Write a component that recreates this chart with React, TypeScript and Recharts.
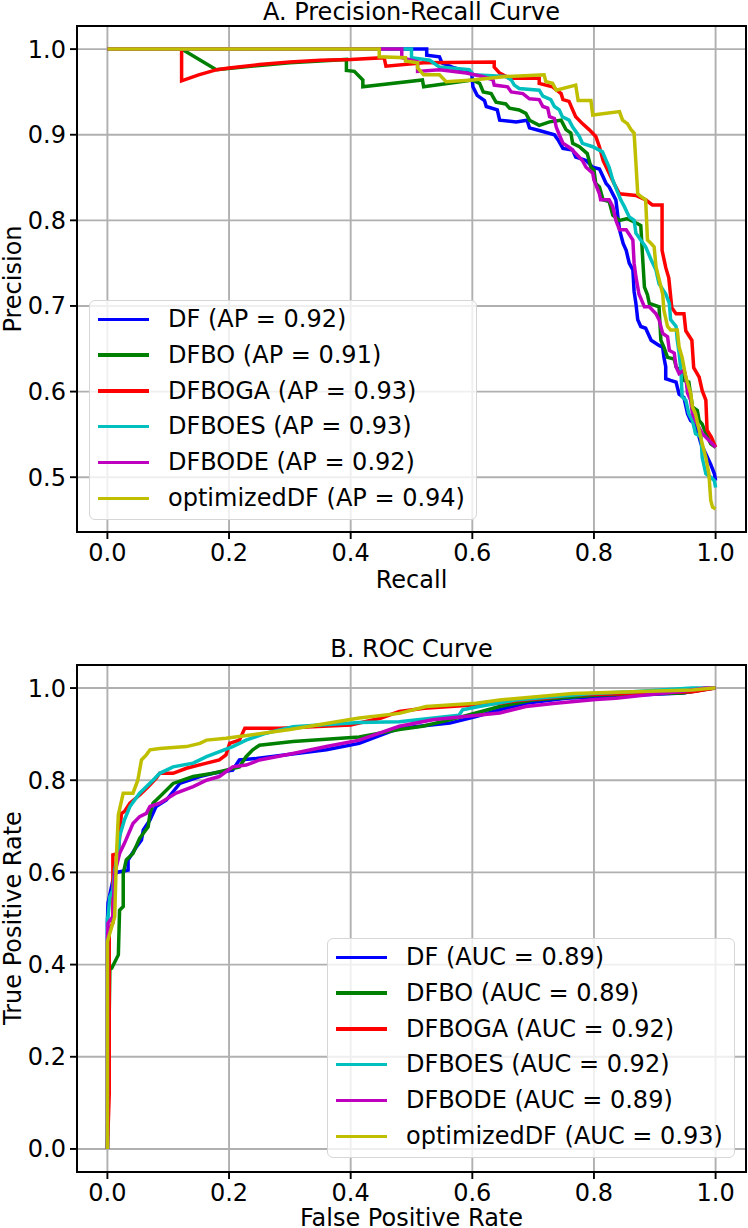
import React from 'react';
import { LineChart, Line, XAxis, YAxis, CartesianGrid } from 'recharts';

const FONT = '"DejaVu Sans", sans-serif';

const seriesNames = ['DF', 'DFBO', 'DFBOGA', 'DFBOES', 'DFBODE', 'optimizedDF'];
const seriesColors = ['#0000ff', '#008000', '#ff0000', '#00bfbf', '#bf00bf', '#bfbf00'];
const apScores = ['0.92', '0.91', '0.93', '0.93', '0.92', '0.94'];
const aucScores = ['0.89', '0.89', '0.92', '0.92', '0.89', '0.93'];

const xTicks = [0, 0.2, 0.4, 0.6, 0.8, 1.0];
const prYTicks = [0.5, 0.6, 0.7, 0.8, 0.9, 1.0];
const rocYTicks = [0, 0.2, 0.4, 0.6, 0.8, 1.0];

// precision-recall: [recall, precision]
const prDF: [number, number][] = [
  [0, 1], [0.525, 1], [0.525, 0.993], [0.546, 0.991], [0.55, 0.984], [0.567, 0.979], [0.599, 0.972],
  [0.601, 0.956], [0.608, 0.946], [0.62, 0.94], [0.623, 0.933], [0.641, 0.929], [0.645, 0.917],
  [0.672, 0.915], [0.69, 0.917], [0.694, 0.908], [0.71, 0.905], [0.735, 0.9], [0.741, 0.894],
  [0.749, 0.884], [0.765, 0.882], [0.77, 0.874], [0.787, 0.87], [0.798, 0.862], [0.809, 0.86],
  [0.815, 0.851], [0.82, 0.843], [0.825, 0.839], [0.833, 0.828], [0.836, 0.824], [0.842, 0.789],
  [0.848, 0.773], [0.853, 0.765], [0.858, 0.75], [0.864, 0.742], [0.866, 0.717], [0.869, 0.703],
  [0.872, 0.684], [0.877, 0.676], [0.885, 0.674], [0.894, 0.66], [0.907, 0.654], [0.913, 0.652],
  [0.915, 0.64], [0.918, 0.629], [0.918, 0.615], [0.926, 0.613], [0.935, 0.611], [0.94, 0.597],
  [0.948, 0.593], [0.954, 0.574], [0.959, 0.566], [0.967, 0.562], [0.976, 0.539], [0.984, 0.527],
  [0.992, 0.515], [0.998, 0.504], [1.0, 0.496],
];
const prDFBO: [number, number][] = [
  [0, 1], [0.122, 1], [0.179, 0.976], [0.25, 0.981], [0.3, 0.984], [0.35, 0.986], [0.393, 0.988],
  [0.393, 0.975], [0.406, 0.974], [0.42, 0.964], [0.42, 0.956], [0.518, 0.964], [0.52, 0.956],
  [0.6, 0.964], [0.612, 0.96], [0.618, 0.95], [0.631, 0.948], [0.639, 0.938], [0.655, 0.936],
  [0.661, 0.931], [0.677, 0.929], [0.688, 0.925], [0.694, 0.917], [0.71, 0.911], [0.727, 0.915],
  [0.746, 0.917], [0.754, 0.906], [0.762, 0.902], [0.765, 0.89], [0.776, 0.886], [0.789, 0.878],
  [0.795, 0.862], [0.8, 0.859], [0.803, 0.843], [0.809, 0.839], [0.815, 0.824], [0.825, 0.822],
  [0.831, 0.806], [0.842, 0.8], [0.855, 0.802], [0.872, 0.796], [0.877, 0.794], [0.88, 0.757],
  [0.883, 0.722], [0.888, 0.713], [0.891, 0.703], [0.907, 0.699], [0.91, 0.66], [0.915, 0.652],
  [0.921, 0.64], [0.932, 0.638], [0.935, 0.629], [0.945, 0.621], [0.948, 0.613], [0.956, 0.611],
  [0.962, 0.582], [0.97, 0.578], [0.973, 0.566], [0.978, 0.562], [0.984, 0.551], [0.992, 0.539],
  [1.0, 0.535],
];
const prDFBOGA: [number, number][] = [
  [0, 1], [0.122, 1], [0.122, 0.963], [0.15, 0.97], [0.18, 0.976], [0.2, 0.978], [0.25, 0.982],
  [0.3, 0.985], [0.35, 0.987], [0.4, 0.988], [0.455, 0.99], [0.458, 0.98], [0.52, 0.984],
  [0.636, 0.985], [0.636, 0.979], [0.645, 0.972], [0.661, 0.966], [0.71, 0.966], [0.71, 0.96],
  [0.732, 0.956], [0.746, 0.948], [0.749, 0.941], [0.759, 0.939], [0.765, 0.929], [0.77, 0.921],
  [0.781, 0.913], [0.792, 0.906], [0.803, 0.898], [0.809, 0.886], [0.815, 0.87], [0.825, 0.855],
  [0.833, 0.843], [0.842, 0.831], [0.869, 0.829], [0.885, 0.824], [0.896, 0.818], [0.912, 0.818],
  [0.912, 0.765], [0.918, 0.745], [0.923, 0.733], [0.928, 0.698], [0.935, 0.691], [0.948, 0.691],
  [0.951, 0.671], [0.961, 0.66], [0.964, 0.628], [0.973, 0.617], [0.978, 0.601], [0.984, 0.59],
  [0.986, 0.555], [0.993, 0.547], [1.0, 0.535],
];
const prDFBOES: [number, number][] = [
  [0, 1], [0.5, 1], [0.5, 0.99], [0.53, 0.987], [0.546, 0.979], [0.595, 0.976], [0.601, 0.97],
  [0.655, 0.968], [0.664, 0.964], [0.669, 0.958], [0.677, 0.954], [0.71, 0.952], [0.716, 0.945],
  [0.729, 0.941], [0.735, 0.933], [0.743, 0.929], [0.748, 0.921], [0.759, 0.917], [0.765, 0.909],
  [0.776, 0.898], [0.781, 0.89], [0.798, 0.886], [0.814, 0.88], [0.82, 0.87], [0.825, 0.862],
  [0.831, 0.847], [0.844, 0.824], [0.85, 0.816], [0.858, 0.804], [0.866, 0.8], [0.869, 0.785],
  [0.885, 0.769], [0.894, 0.754], [0.902, 0.742], [0.907, 0.726], [0.918, 0.714], [0.924, 0.703],
  [0.926, 0.684], [0.935, 0.676], [0.937, 0.66], [0.94, 0.645], [0.943, 0.625], [0.945, 0.594],
  [0.951, 0.59], [0.956, 0.574], [0.962, 0.566], [0.967, 0.551], [0.976, 0.547], [0.978, 0.523],
  [0.984, 0.504], [0.992, 0.5], [0.998, 0.496], [1.0, 0.488],
];
const prDFBODE: [number, number][] = [
  [0, 1], [0.484, 1], [0.484, 0.99], [0.51, 0.985], [0.51, 0.974], [0.546, 0.976], [0.59, 0.972],
  [0.617, 0.968], [0.634, 0.964], [0.636, 0.958], [0.658, 0.956], [0.664, 0.95], [0.683, 0.948],
  [0.694, 0.942], [0.71, 0.941], [0.716, 0.933], [0.724, 0.931], [0.727, 0.921], [0.735, 0.919],
  [0.738, 0.909], [0.743, 0.9], [0.749, 0.89], [0.762, 0.884], [0.77, 0.878], [0.781, 0.87],
  [0.787, 0.862], [0.798, 0.855], [0.8, 0.847], [0.809, 0.831], [0.811, 0.824], [0.825, 0.824],
  [0.831, 0.816], [0.836, 0.8], [0.842, 0.789], [0.853, 0.789], [0.864, 0.777], [0.866, 0.75],
  [0.869, 0.734], [0.874, 0.714], [0.883, 0.699], [0.891, 0.699], [0.902, 0.691], [0.907, 0.684],
  [0.913, 0.668], [0.921, 0.664], [0.924, 0.648], [0.932, 0.645], [0.935, 0.629], [0.94, 0.621],
  [0.948, 0.625], [0.951, 0.617], [0.954, 0.598], [0.959, 0.59], [0.962, 0.574], [0.967, 0.566],
  [0.978, 0.551], [0.989, 0.543], [1.0, 0.535],
];
const prOptimizedDF: [number, number][] = [
  [0, 1], [0.447, 1], [0.447, 0.991], [0.49, 0.99], [0.49, 0.986], [0.51, 0.984], [0.51, 0.978],
  [0.52, 0.97], [0.546, 0.97], [0.557, 0.962], [0.601, 0.964], [0.655, 0.968], [0.718, 0.97],
  [0.721, 0.962], [0.732, 0.96], [0.738, 0.952], [0.77, 0.958], [0.774, 0.94], [0.795, 0.94],
  [0.798, 0.923], [0.842, 0.927], [0.847, 0.917], [0.855, 0.913], [0.861, 0.906], [0.866, 0.902],
  [0.869, 0.867], [0.872, 0.831], [0.877, 0.828], [0.885, 0.824], [0.888, 0.777], [0.894, 0.773],
  [0.899, 0.769], [0.902, 0.746], [0.913, 0.714], [0.915, 0.695], [0.921, 0.676], [0.926, 0.672],
  [0.937, 0.672], [0.94, 0.652], [0.945, 0.64], [0.951, 0.617], [0.959, 0.598], [0.962, 0.582],
  [0.967, 0.574], [0.973, 0.555], [0.978, 0.539], [0.984, 0.523], [0.989, 0.504], [0.992, 0.473],
  [0.995, 0.465], [1.0, 0.463],
];

// ROC: [false positive rate, true positive rate]
const rocDF: [number, number][] = [
  [0, 0], [0, 0.49], [0.001, 0.533], [0.009, 0.583], [0.015, 0.6], [0.034, 0.605], [0.034, 0.627],
  [0.048, 0.656], [0.056, 0.67], [0.059, 0.692], [0.07, 0.714], [0.08, 0.743], [0.097, 0.757],
  [0.119, 0.793], [0.152, 0.808], [0.174, 0.815], [0.206, 0.822], [0.217, 0.844], [0.245, 0.847],
  [0.36, 0.866], [0.414, 0.88], [0.48, 0.913], [0.513, 0.917], [0.563, 0.924], [0.606, 0.938],
  [0.645, 0.953], [0.688, 0.967], [0.754, 0.978], [0.946, 0.989], [0.997, 1.0], [1.0, 1.0],
];
const rocDFBO: [number, number][] = [
  [0, 0], [0.004, 0.39], [0.007, 0.392], [0.018, 0.421], [0.02, 0.518], [0.026, 0.526], [0.026, 0.598],
  [0.031, 0.627], [0.042, 0.641], [0.053, 0.674], [0.067, 0.699], [0.07, 0.728], [0.075, 0.75],
  [0.086, 0.764], [0.108, 0.793], [0.141, 0.808], [0.174, 0.815], [0.195, 0.822], [0.217, 0.829],
  [0.228, 0.851], [0.239, 0.866], [0.25, 0.876], [0.305, 0.884], [0.414, 0.894], [0.48, 0.91],
  [0.518, 0.917], [0.563, 0.931], [0.606, 0.946], [0.645, 0.96], [0.699, 0.974], [0.808, 0.985],
  [0.946, 0.989], [0.997, 1.0], [1.0, 1.0],
];
const rocDFBOGA: [number, number][] = [
  [0, 0], [0.003, 0.12], [0.003, 0.475], [0.009, 0.49], [0.009, 0.638], [0.018, 0.641], [0.023, 0.728],
  [0.028, 0.732], [0.037, 0.75], [0.053, 0.768], [0.067, 0.786], [0.08, 0.804], [0.086, 0.815],
  [0.108, 0.815], [0.13, 0.826], [0.163, 0.837], [0.184, 0.844], [0.195, 0.855], [0.201, 0.88],
  [0.217, 0.887], [0.226, 0.913], [0.283, 0.913], [0.4, 0.92], [0.45, 0.935], [0.48, 0.949],
  [0.521, 0.956], [0.645, 0.967], [0.683, 0.974], [0.721, 0.978], [0.765, 0.985], [0.962, 0.992],
  [1.0, 1.0],
];
const rocDFBOES: [number, number][] = [
  [0, 0], [0, 0.5], [0.001, 0.504], [0.004, 0.547], [0.009, 0.562], [0.012, 0.605], [0.018, 0.641],
  [0.02, 0.678], [0.028, 0.714], [0.037, 0.743], [0.053, 0.772], [0.075, 0.8], [0.086, 0.815],
  [0.108, 0.829], [0.141, 0.837], [0.163, 0.851], [0.206, 0.873], [0.228, 0.887], [0.261, 0.902],
  [0.305, 0.916], [0.414, 0.925], [0.48, 0.927], [0.578, 0.941], [0.584, 0.953], [0.611, 0.96],
  [0.671, 0.974], [0.797, 0.988], [0.863, 0.992], [0.962, 1.0], [1.0, 1.0],
];
const rocDFBODE: [number, number][] = [
  [0, 0], [0, 0.453], [0.001, 0.49], [0.009, 0.504], [0.012, 0.598], [0.02, 0.641], [0.028, 0.663],
  [0.042, 0.706], [0.053, 0.721], [0.064, 0.728], [0.07, 0.743], [0.086, 0.75], [0.113, 0.772],
  [0.141, 0.786], [0.163, 0.8], [0.184, 0.808], [0.206, 0.829], [0.228, 0.833], [0.25, 0.844],
  [0.305, 0.858], [0.36, 0.873], [0.414, 0.887], [0.48, 0.917], [0.535, 0.931], [0.645, 0.946],
  [0.688, 0.96], [0.737, 0.967], [0.803, 0.975], [0.836, 0.978], [0.885, 0.985], [0.918, 0.989],
  [0.946, 0.993], [0.984, 1.0], [1.0, 1.0],
];
const rocOptimizedDF: [number, number][] = [
  [0, 0], [0, 0.45], [0.012, 0.504], [0.015, 0.641], [0.018, 0.725], [0.026, 0.772], [0.042, 0.772],
  [0.05, 0.8], [0.056, 0.844], [0.064, 0.855], [0.07, 0.866], [0.086, 0.869], [0.13, 0.873],
  [0.152, 0.88], [0.163, 0.887], [0.195, 0.891], [0.3, 0.91], [0.414, 0.935], [0.48, 0.945],
  [0.524, 0.96], [0.606, 0.967], [0.645, 0.974], [0.765, 0.988], [0.962, 0.996], [0.997, 1.0],
  [1.0, 1.0],
];

const prSeries = [prDF, prDFBO, prDFBOGA, prDFBOES, prDFBODE, prOptimizedDF];
const rocSeries = [rocDF, rocDFBO, rocDFBOGA, rocDFBOES, rocDFBODE, rocOptimizedDF];

const toPoints = (s: [number, number][]) => s.map(([x, y]) => ({ x, y }));
const fmt = (v: number) => v.toFixed(1);

const tickStyle = { fill: '#000', fontSize: 24, fontFamily: FONT };

function Legend({ left, top, width, height, labels }: { left: number; top: number; width: number; height: number; labels: string[] }) {
  return (
    <div
      style={{
        position: 'absolute', left, top, width, height, boxSizing: 'border-box',
        background: 'rgba(255,255,255,0.8)', border: '1.5px solid #d6d6d6', borderRadius: 6,
      }}
    >
      {labels.map((label, i) => (
        <div key={label} style={{ position: 'absolute', left: 0, top: 18 + i * 35.8 - 12, height: 24, width: '100%' }}>
          <div style={{ position: 'absolute', left: 8, top: 10.5, width: 51, height: 3.5, background: seriesColors[i] }} />
          <div style={{ position: 'absolute', left: 78, top: 0, lineHeight: '24px', fontSize: 24, fontFamily: FONT, whiteSpace: 'nowrap', color: '#000' }}>
            {label}
          </div>
        </div>
      ))}
    </div>
  );
}

// centred text; line box kept tight so it stays inside the page
function Text({ x, y, children, rotate }: { x: number; y: number; children: string; rotate?: boolean }) {
  return (
    <div
      style={{
        position: 'absolute', left: x, top: y, transform: `translate(-50%, -50%)${rotate ? ' rotate(-90deg)' : ''}`,
        fontSize: 24, lineHeight: '18px', fontFamily: FONT, whiteSpace: 'nowrap', color: '#000',
      }}
    >
      {children}
    </div>
  );
}

function Frame({ left, top, width, height }: { left: number; top: number; width: number; height: number }) {
  return <div style={{ position: 'absolute', left: left - 1, top: top - 1, width: width + 2, height: height + 2, boxSizing: 'border-box', border: '2px solid #000', pointerEvents: 'none' }} />;
}

export default function App() {
  return (
    <div style={{ position: 'absolute', left: 0, top: 0, width: 748, height: 1228, background: '#fff', overflow: 'hidden' }}>
      <div style={{ position: 'absolute', left: 0, top: 0 }}>
        <LineChart width={748} height={640} margin={{ top: 26, right: 2, bottom: 0, left: 0 }}>
          <CartesianGrid stroke="#b0b0b0" strokeWidth={1.9} />
          <XAxis dataKey="x" type="number" domain={[-0.05, 1.05]} ticks={xTicks} tickFormatter={fmt} allowDataOverflow
            height={108} tick={tickStyle} tickSize={7} tickMargin={5} axisLine={false} tickLine={{ stroke: '#000', strokeWidth: 1.9 }} />
          <YAxis type="number" domain={[0.436, 1.027]} ticks={prYTicks} tickFormatter={fmt} allowDataOverflow
            width={77} tick={tickStyle} tickSize={7} tickMargin={4} axisLine={false} tickLine={{ stroke: '#000', strokeWidth: 1.9 }} />
          {prSeries.map((s, i) => (
            <Line key={seriesNames[i]} data={toPoints(s)} dataKey="y" type="linear" stroke={seriesColors[i]} strokeWidth={3.5}
              dot={false} activeDot={false} isAnimationActive={false} />
          ))}
        </LineChart>
      </div>
      <Frame left={77} top={26} width={669} height={506} />
      <Legend left={89} top={300} width={388} height={220} labels={seriesNames.map((n, i) => `${n} (AP = ${apScores[i]})`)} />
      <Text x={411.5} y={12}>A. Precision-Recall Curve</Text>
      <Text x={411.5} y={580}>Recall</Text>
      <Text x={13} y={279} rotate>Precision</Text>

      <div style={{ position: 'absolute', left: 0, top: 640 }}>
        <LineChart width={748} height={588} margin={{ top: 25, right: 2, bottom: 0, left: 0 }}>
          <CartesianGrid stroke="#b0b0b0" strokeWidth={1.9} />
          <XAxis dataKey="x" type="number" domain={[-0.05, 1.05]} ticks={xTicks} tickFormatter={fmt} allowDataOverflow
            height={56} tick={tickStyle} tickSize={7} tickMargin={5} axisLine={false} tickLine={{ stroke: '#000', strokeWidth: 1.9 }} />
          <YAxis type="number" domain={[-0.05, 1.05]} ticks={rocYTicks} tickFormatter={fmt} allowDataOverflow
            width={77} tick={tickStyle} tickSize={7} tickMargin={4} axisLine={false} tickLine={{ stroke: '#000', strokeWidth: 1.9 }} />
          {rocSeries.map((s, i) => (
            <Line key={seriesNames[i]} data={toPoints(s)} dataKey="y" type="linear" stroke={seriesColors[i]} strokeWidth={3.5}
              dot={false} activeDot={false} isAnimationActive={false} />
          ))}
        </LineChart>
      </div>
      <Frame left={77} top={665} width={669} height={507} />
      <Legend left={327} top={938} width={408} height={220} labels={seriesNames.map((n, i) => `${n} (AUC = ${aucScores[i]})`)} />
      <Text x={411.5} y={649}>B. ROC Curve</Text>
      <Text x={411.5} y={1218}>False Positive Rate</Text>
      <Text x={13} y={918} rotate>True Positive Rate</Text>
    </div>
  );
}
